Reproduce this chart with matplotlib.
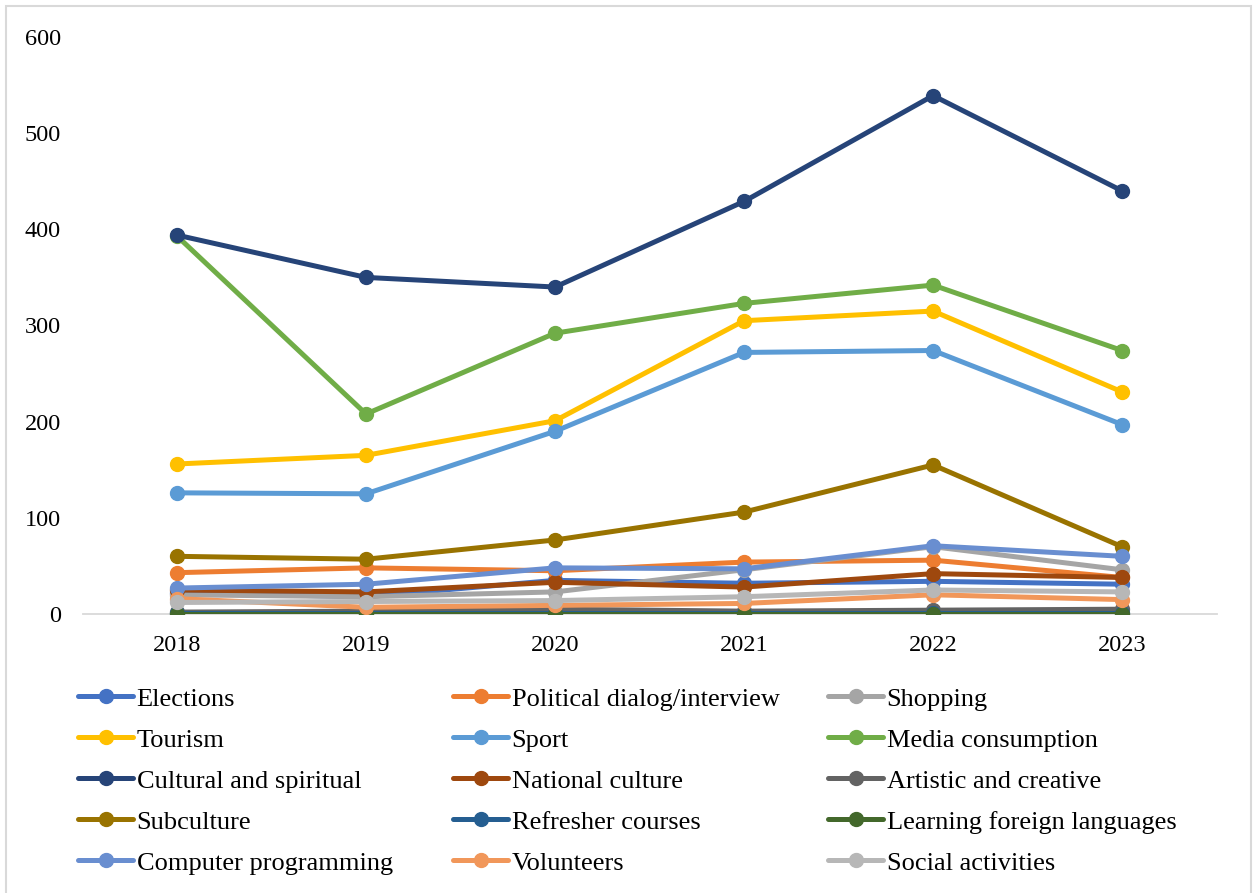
import matplotlib
matplotlib.use("Agg")
import matplotlib.pyplot as plt
from matplotlib.patches import Rectangle

plt.rcParams['font.family'] = ['Liberation Serif', 'DejaVu Serif']

years = ["2018", "2019", "2020", "2021", "2022", "2023"]

elections = [22, 18, 35, 32, 34, 31]
political_dialog = [43, 48, 45, 54, 56, 38]
shopping = [20, 18, 23, 46, 70, 46]
tourism = [156, 165, 201, 305, 315, 231]
sport = [126, 125, 190, 272, 274, 197]
media_consumption = [393, 208, 292, 323, 342, 274]
cultural_spiritual = [394, 350, 340, 429, 539, 440]
national_culture = [25, 23, 33, 28, 42, 38]
artistic_creative = [2, 3, 5, 3, 4, 5]
subculture = [60, 57, 77, 106, 155, 70]
refresher_courses = [1, 1, 1, 1, 1, 1]
foreign_languages = [0, 0, 0, 0, 0, 0]
computer_programming = [27, 31, 48, 47, 71, 60]
volunteers = [16, 7, 9, 11, 20, 15]
social_activities = [12, 13, 14, 18, 25, 23]

series = [
    ("Elections", elections, "#4472C4"),
    ("Political dialog/interview", political_dialog, "#ED7D31"),
    ("Shopping", shopping, "#A5A5A5"),
    ("Tourism", tourism, "#FFC000"),
    ("Sport", sport, "#5B9BD5"),
    ("Media consumption", media_consumption, "#70AD47"),
    ("Cultural and spiritual", cultural_spiritual, "#264478"),
    ("National culture", national_culture, "#9E480E"),
    ("Artistic and creative", artistic_creative, "#636363"),
    ("Subculture", subculture, "#997300"),
    ("Refresher courses", refresher_courses, "#255E91"),
    ("Learning foreign languages", foreign_languages, "#43682B"),
    ("Computer programming", computer_programming, "#698ED0"),
    ("Volunteers", volunteers, "#F1975A"),
    ("Social activities", social_activities, "#B7B7B7"),
]

fig = plt.figure(figsize=(12.56, 8.93), dpi=100)
ax = fig.add_axes([0.0657, 0.3124, 0.9029, 0.6462])

x = list(range(len(years)))
handles = []
for i, (name, vals, color) in enumerate(series):
    ln, = ax.plot(x, vals, color=color, lw=3.6, marker="o", ms=10,
                  solid_capstyle="round", zorder=2 + i * 0.01, label=name)
    handles.append(ln)

ax.set_xlim(-0.5, 5.5)
ax.set_ylim(0, 600)
ax.set_xticks(x)
ax.set_xticklabels(years)
ax.set_yticks(range(0, 601, 100))
ax.tick_params(axis="both", length=0, labelsize=17.5, colors="#000000")
ax.tick_params(axis="x", pad=15)
ax.tick_params(axis="y", pad=15.5)
for side in ("top", "right", "left"):
    ax.spines[side].set_visible(False)
ax.spines["bottom"].set_color("#D9D9D9")
ax.spines["bottom"].set_linewidth(1.3)
ax.spines["bottom"].set_zorder(1)

# legend: three equally spaced columns, filled row by row
col_x = [0.0621, 0.3607, 0.6592]
for c in range(3):
    col_handles = handles[c::3]
    fig.legend(handles=col_handles, loc="upper left",
               bbox_to_anchor=(col_x[c], 0.2306), frameon=False,
               fontsize=19, handlelength=2.1, handletextpad=0.12,
               labelspacing=0.665, borderaxespad=0, borderpad=0)

# thin outer frame
fig.patches.append(Rectangle((6 / 1256, -0.02), 1245 / 1256, 1.02 - 6 / 893,
                             transform=fig.transFigure, fill=False,
                             edgecolor="#D9D9D9", lw=1.5))

fig.savefig("out.png", dpi=100)
